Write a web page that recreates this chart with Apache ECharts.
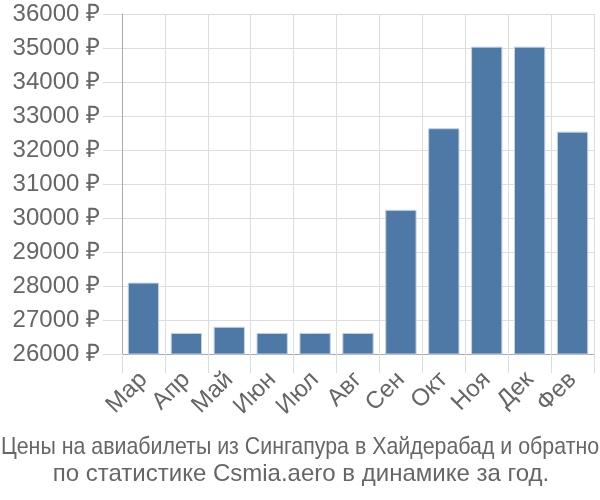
<!DOCTYPE html>
<html><head><meta charset="utf-8">
<script src="https://cdn.jsdelivr.net/npm/echarts@6/dist/echarts.min.js"></script>
<style>html,body{margin:0;padding:0;background:#fff}#c{width:600px;height:500px}</style>
</head><body><div id="c"></div>
<script>
const categories = ['Мар','Апр','Май','Июн','Июл','Авг','Сен','Окт','Ноя','Дек','Фев'];
const prices = [28100, 26620, 26800, 26620, 26620, 26620, 30240, 32640, 35040, 35040, 32540];
const titleLines = ['Цены на авиабилеты из Сингапура в Хайдерабад и обратно', 'по статистике Csmia.aero в динамике за год.'];
const font = '"Liberation Sans", Arial, sans-serif';
const chart = echarts.init(document.getElementById('c'), null, {renderer:'canvas'});
chart.setOption({
  animation:false,
  graphic:[
    {type:'text', x:300, y:447.5, scaleX:0.89, scaleY:1,
      style:{text:titleLines[0], fill:'#666', font:'24px "Liberation Sans", Arial, sans-serif',
        align:'center', verticalAlign:'middle'}},
    {type:'text', x:301, y:474,
      style:{text:titleLines[1], fill:'#666', font:'24px "Liberation Sans", Arial, sans-serif',
        align:'center', verticalAlign:'middle'}}
  ],
  grid:{left:122, right:6, top:14, bottom:146, containLabel:false},
  xAxis:{type:'category', data:categories,
    axisLine:{lineStyle:{color:'#aaa', width:1}},
    axisTick:{show:true, length:19, lineStyle:{color:'#ddd'}},
    splitLine:{show:true, lineStyle:{color:'#ddd', width:1}},
    axisLabel:{rotate:45, fontFamily:font, fontSize:24, color:'#666', margin:22, interval:0}},
  yAxis:{type:'value', min:26000, max:36000, interval:1000,
    axisLine:{show:true, lineStyle:{color:'#aaa', width:1}},
    axisTick:{show:true, length:19, lineStyle:{color:'#ddd'}},
    splitLine:{show:true, lineStyle:{color:'#ddd', width:1}},
    axisLabel:{formatter:function(v){return v + ' ₽';}, fontFamily:font, fontSize:24, color:'#666', margin:22}},
  series:[{type:'bar', data:prices, barCategoryGap:'27%',
    itemStyle:{color:'#4e79a7', borderColor:'#c4d2e2', borderWidth:1}}]
});
</script></body></html>
